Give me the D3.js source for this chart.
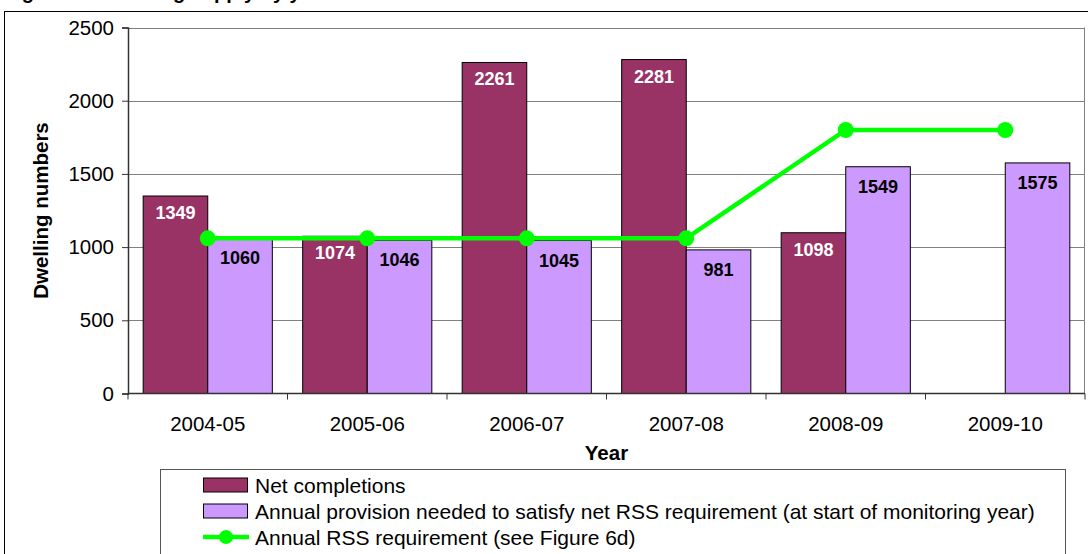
<!DOCTYPE html>
<html>
<head>
<meta charset="utf-8">
<script src="https://cdn.jsdelivr.net/npm/d3@7"></script>
<style>
  html, body { margin: 0; padding: 0; background: #fff; }
  svg { display: block; font-family: "Liberation Sans", Arial, sans-serif; }
</style>
</head>
<body>
<div id="chart"></div>
<script>
// housing completions vs provision needed, with the RSS requirement line
const categories = ['2004-05', '2005-06', '2006-07', '2007-08', '2008-09', '2009-10'];
const netCompletions = [1349, 1074, 2261, 2281, 1098, null];
const annualProvision = [1060, 1046, 1045, 981, 1549, 1575];
const rssRequirement = [1060, 1060, 1060, 1060, 1800, 1800];
const yTicks = [0, 500, 1000, 1500, 2000, 2500];
const seriesNames = [
  'Net completions',
  'Annual provision needed to satisfy net RSS requirement (at start of monitoring year)',
  'Annual RSS requirement (see Figure 6d)'
];

const W = 1088, H = 554;
const plot = { left: 128, right: 1085, top: 27.5, bottom: 393.5 };
const MAROON = '#993366', LILAC = '#cc99ff', GREEN = '#00ff00';
const FS = 20.5;

const svg = d3.select('#chart').append('svg').attr('width', W).attr('height', H);

// title mostly clipped off the top of the picture
svg.append('text').attr('x', 4).attr('y', -1.5)
  .attr('font-size', 20).attr('font-weight', 700)
  .text('Figure 6c: Housing supply by year');

// outer chart border
svg.append('rect').attr('x', 4.5).attr('y', 11.5).attr('width', W).attr('height', H)
  .attr('fill', 'none').attr('stroke', '#000');

const x = d3.scaleBand().domain(categories).range([plot.left, plot.right]);
const x1 = d3.scaleBand().domain(['net', 'prov']).range([0, x.bandwidth()]).paddingOuter(0.235);
const y = d3.scaleLinear().domain([0, 2500]).range([plot.bottom, plot.top]);

// gridlines
svg.append('g').selectAll('line').data(yTicks.filter(d => d > 0)).join('line')
  .attr('x1', plot.left).attr('x2', plot.right)
  .attr('y1', d => Math.round(y(d)) + 0.5).attr('y2', d => Math.round(y(d)) + 0.5)
  .attr('stroke', '#808080').attr('stroke-width', 1.2);
svg.append('line')
  .attr('x1', plot.right - 0.5).attr('x2', plot.right - 0.5)
  .attr('y1', y(2500)).attr('y2', plot.bottom)
  .attr('stroke', '#808080');

// bars
const rows = categories.map((c, i) => ({ c, net: netCompletions[i], prov: annualProvision[i] }));
const groups = svg.append('g').selectAll('g').data(rows).join('g')
  .attr('transform', d => `translate(${x(d.c)},0)`);

groups.filter(d => d.net != null).append('rect')
  .attr('x', x1('net')).attr('width', x1.bandwidth())
  .attr('y', d => y(d.net)).attr('height', d => y(0) - y(d.net))
  .attr('fill', MAROON).attr('stroke', '#000').attr('stroke-width', 1);
groups.append('rect')
  .attr('x', x1('prov')).attr('width', x1.bandwidth())
  .attr('y', d => y(d.prov)).attr('height', d => y(0) - y(d.prov))
  .attr('fill', LILAC).attr('stroke', '#000').attr('stroke-width', 1);

groups.filter(d => d.net != null).append('text')
  .attr('x', x1('net') + x1.bandwidth() / 2).attr('y', d => y(d.net) + 17)
  .attr('text-anchor', 'middle').attr('dominant-baseline', 'central')
  .attr('font-size', 18).attr('font-weight', 700).attr('fill', '#fff')
  .text(d => d.net);
groups.append('text')
  .attr('x', x1('prov') + x1.bandwidth() / 2).attr('y', d => y(d.prov) + 20)
  .attr('text-anchor', 'middle').attr('dominant-baseline', 'central')
  .attr('font-size', 18).attr('font-weight', 700).attr('fill', '#000')
  .text(d => d.prov);

// axes
const yAxis = svg.append('g').attr('transform', `translate(${plot.left},0)`)
  .call(d3.axisLeft(y).tickValues(yTicks).tickFormat(d3.format('d')).tickSize(6).tickPadding(8));
yAxis.select('.domain').attr('stroke', '#333').attr('stroke-width', 1.5);
yAxis.selectAll('.tick line').attr('stroke', '#333');
yAxis.selectAll('.tick text').attr('font-size', FS).attr('fill', '#000')
  .attr('font-family', '"Liberation Sans", Arial, sans-serif');

const xAxisG = svg.append('g');
xAxisG.append('line').attr('x1', plot.left).attr('x2', plot.right)
  .attr('y1', plot.bottom).attr('y2', plot.bottom).attr('stroke', '#333').attr('stroke-width', 1.5);
xAxisG.selectAll('line.tk').data(categories.concat(['end'])).join('line').attr('class', 'tk')
  .attr('x1', (d, i) => i < categories.length ? x(d) : plot.right)
  .attr('x2', (d, i) => i < categories.length ? x(d) : plot.right)
  .attr('y1', plot.bottom).attr('y2', plot.bottom + 6).attr('stroke', '#333');
xAxisG.selectAll('text').data(categories).join('text')
  .attr('x', d => x(d) + x.bandwidth() / 2).attr('y', 423)
  .attr('text-anchor', 'middle').attr('dominant-baseline', 'central')
  .attr('font-size', FS).text(d => d);

// RSS requirement line
const pts = categories.map((c, i) => ({ x: x(c) + x.bandwidth() / 2, y: y(rssRequirement[i]) }));
svg.append('path').datum(pts)
  .attr('d', d3.line().x(p => p.x).y(p => p.y))
  .attr('fill', 'none').attr('stroke', GREEN).attr('stroke-width', 4.5);
svg.append('g').selectAll('circle').data(pts).join('circle')
  .attr('cx', p => p.x).attr('cy', p => p.y).attr('r', 8).attr('fill', GREEN);

// axis titles
svg.append('text').attr('x', (plot.left + plot.right) / 2).attr('y', 452)
  .attr('text-anchor', 'middle').attr('dominant-baseline', 'central')
  .attr('font-size', FS).attr('font-weight', 700).text('Year');
svg.append('text')
  .attr('transform', `translate(40,${(plot.top + plot.bottom) / 2}) rotate(-90)`)
  .attr('text-anchor', 'middle').attr('dominant-baseline', 'central')
  .attr('font-size', FS).attr('font-weight', 700).text('Dwelling numbers');

// legend
const lg = svg.append('g');
lg.append('rect').attr('x', 160.5).attr('y', 469.5).attr('width', 905).attr('height', 120)
  .attr('fill', '#fff').attr('stroke', '#555');
const rowY = [485, 511, 537];
lg.append('rect').attr('x', 203.5).attr('y', rowY[0] - 7).attr('width', 44).attr('height', 14)
  .attr('fill', MAROON).attr('stroke', '#000');
lg.append('rect').attr('x', 203.5).attr('y', rowY[1] - 7).attr('width', 44).attr('height', 14)
  .attr('fill', LILAC).attr('stroke', '#000');
lg.append('line').attr('x1', 203).attr('x2', 249).attr('y1', rowY[2]).attr('y2', rowY[2])
  .attr('stroke', GREEN).attr('stroke-width', 4.5);
lg.append('circle').attr('cx', 226).attr('cy', rowY[2]).attr('r', 7).attr('fill', GREEN);
lg.selectAll('text').data(seriesNames).join('text')
  .attr('x', 255).attr('y', (d, i) => rowY[i])
  .attr('dominant-baseline', 'central').attr('font-size', 21)
  .text(d => d);
</script>
</body>
</html>
